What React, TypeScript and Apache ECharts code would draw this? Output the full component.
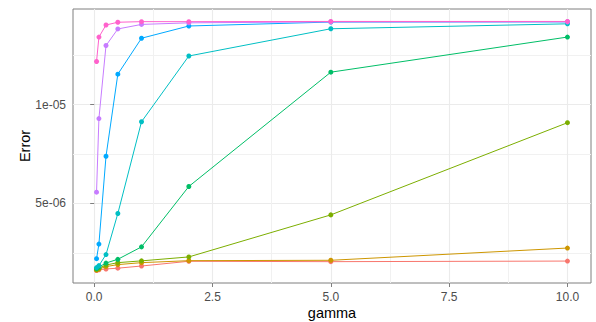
import { useEffect, useRef } from "react";
import * as echarts from "echarts";

// gamma settings shared by every curve
const gamma = [0.05, 0.1, 0.25, 0.5, 1, 2, 5, 10];

// Error per gamma, one array per group (in units of 1e-6, scaled below)
const errA = [1.6, 1.64, 1.68, 1.72, 1.83, 2.07, 2.05, 2.08];
const errB = [1.62, 1.68, 1.8, 1.9, 2.0, 2.1, 2.12, 2.74];
const errC = [1.65, 1.72, 1.88, 2.0, 2.09, 2.29, 4.42, 9.09];
const errD = [1.7, 1.78, 1.98, 2.17, 2.8, 5.86, 11.65, 13.43];
const errE = [1.75, 1.85, 2.41, 4.49, 9.14, 12.47, 13.85, 14.1];
const errF = [2.2, 2.94, 7.39, 11.55, 13.37, 13.99, 14.19, 14.2];
const errG = [5.57, 9.3, 13.0, 13.84, 14.07, 14.15, 14.2, 14.2];
const errH = [12.19, 13.43, 14.04, 14.18, 14.21, 14.21, 14.22, 14.22];

const groups = [errA, errB, errC, errD, errE, errF, errG, errH];
const groupColors = [
  "#F8766D",
  "#CD9600",
  "#7CAE00",
  "#00BE67",
  "#00BFC4",
  "#00A9FF",
  "#C77CFF",
  "#FF61CC",
];

// axis breaks
const xTicks = [0, 2.5, 5, 7.5, 10];
const xTickLabels = ["0.0", "2.5", "5.0", "7.5", "10.0"];
const xMinor = [1.25, 3.75, 6.25, 8.75];
const yTicks = [5e-6, 1e-5];
const yTickLabels = ["5e-06", "1e-05"];
const yMinor = [2.5e-6, 7.5e-6, 1.25e-5];

const SCALE = 1e-6;

function expandRange(lo: number, hi: number): [number, number] {
  const pad = (hi - lo) * 0.05;
  return [lo - pad, hi + pad];
}

function labelFor(values: number[], labels: string[], v: number): string {
  let best = 0;
  for (let i = 1; i < values.length; i++) {
    if (Math.abs(values[i] - v) < Math.abs(values[best] - v)) best = i;
  }
  return labels[best];
}

export default function App() {
  const ref = useRef<HTMLDivElement>(null);

  useEffect(() => {
    document.body.style.margin = "0";
    if (!ref.current) return;
    const chart = echarts.init(ref.current, undefined, { renderer: "svg" });

    const allY = groups.flat().map((v) => v * SCALE);
    const [yMin, yMax] = expandRange(Math.min(...allY), Math.max(...allY));
    const [xMin, xMax] = expandRange(Math.min(...gamma), Math.max(...gamma));

    const font = "Liberation Sans, Arial, sans-serif";
    const gridColor = "#EBEBEB";
    const frameColor = "#7F7F7F";

    chart.setOption({
      animation: false,
      backgroundColor: "#FFFFFF",
      grid: {
        left: 73,
        right: 5,
        top: 9,
        bottom: 39,
        show: true,
        borderColor: frameColor,
        borderWidth: 1,
        backgroundColor: "transparent",
        containLabel: false,
        outerBoundsMode: "none",
      },
      xAxis: [
        {
          type: "value",
          min: xMin,
          max: xMax,
          name: "gamma",
          nameLocation: "middle",
          nameGap: 22,
          nameMoveOverlap: false,
          nameTextStyle: { color: "#000000", fontSize: 14.5, fontFamily: font },
          axisLine: { show: false },
          axisTick: { show: true, length: 4, customValues: xTicks, lineStyle: { color: frameColor } },
          axisLabel: {
            customValues: xTicks,
            margin: 8,
            color: "#4D4D4D",
            fontSize: 12,
            fontFamily: font,
            formatter: (v: number) => labelFor(xTicks, xTickLabels, v),
          },
          splitLine: { show: true, lineStyle: { color: gridColor, width: 1.1 } },
        },
        {
          type: "value",
          min: xMin,
          max: xMax,
          axisLine: { show: false },
          axisTick: { show: false, customValues: xMinor },
          axisLabel: { show: false, customValues: xMinor },
          splitLine: { show: true, lineStyle: { color: "#F1F1F1", width: 1 } },
        },
      ],
      yAxis: [
        {
          type: "value",
          min: yMin,
          max: yMax,
          name: "Error",
          nameLocation: "middle",
          nameGap: 41,
          nameMoveOverlap: false,
          nameTextStyle: { color: "#000000", fontSize: 14.5, fontFamily: font },
          axisLine: { show: false },
          axisTick: { show: true, length: 4, customValues: yTicks, lineStyle: { color: frameColor } },
          axisLabel: {
            customValues: yTicks,
            margin: 7,
            color: "#4D4D4D",
            fontSize: 12,
            fontFamily: font,
            formatter: (v: number) => labelFor(yTicks, yTickLabels, v),
          },
          splitLine: { show: true, lineStyle: { color: gridColor, width: 1.1 } },
        },
        {
          type: "value",
          min: yMin,
          max: yMax,
          axisLine: { show: false },
          axisTick: { show: false, customValues: yMinor },
          axisLabel: { show: false, customValues: yMinor },
          splitLine: { show: true, lineStyle: { color: "#F1F1F1", width: 1 } },
        },
      ],
      series: groups.map((vals, i) => ({
        name: `group ${i + 1}`,
        type: "line",
        xAxisIndex: 0,
        yAxisIndex: 0,
        data: gamma.map((g, j) => [g, vals[j] * SCALE]),
        symbol: "circle",
        symbolSize: 5,
        showSymbol: true,
        lineStyle: { color: groupColors[i], width: 1 },
        itemStyle: { color: groupColors[i] },
        emphasis: { disabled: true },
        z: 2 + i,
      })),
    });

    return () => chart.dispose();
  }, []);

  return <div ref={ref} style={{ width: 596, height: 322 }} />;
}
